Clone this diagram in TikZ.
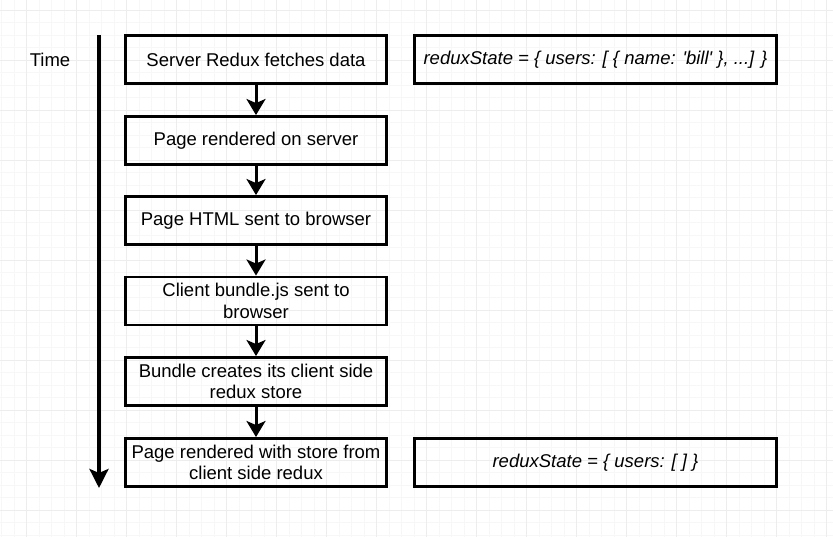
\documentclass[tikz,border=0pt]{standalone}
\usepackage{fontspec}
\setmainfont{Liberation Sans}
\usetikzlibrary{arrows.meta}
\begin{document}
\begin{tikzpicture}[x=1pt,y=-1pt,
  every node/.style={font=\fontsize{18.5}{21.7}\selectfont},
  gridminor/.style={draw=black!3, line width=0.6pt},
  gridmajor/.style={draw=black!7, line width=0.9pt},
  stepbox/.style={draw, line width=2.9pt, minimum width=261pt, minimum height=48pt, align=center, inner sep=0pt},
  statebox/.style={draw, line width=2.9pt, minimum width=362pt, minimum height=48pt, align=center, inner sep=0pt, font=\fontsize{18.5}{21.7}\selectfont\itshape},
  flow/.style={line width=3pt, -{Stealth[length=16pt,width=19pt,inset=4pt]}},
  timeline/.style={line width=3.4pt, -{Stealth[length=19pt,width=19pt,inset=4pt]}}
]
\useasboundingbox (0,0) rectangle (833,537);
\fill[white] (0,0) rectangle (833,537);
% grid
\foreach \i in {0,...,66} \draw[gridminor] ({1.7+12.5*\i},0) -- ({1.7+12.5*\i},537);
\foreach \i in {0,...,42} \draw[gridminor] (0,{10+12.5*\i}) -- (833,{10+12.5*\i});
\foreach \i in {0,...,16} \draw[gridmajor] ({26.7+50*\i},0) -- ({26.7+50*\i},537);
\foreach \i in {0,...,10} \draw[gridmajor] (0,{10+50*\i}) -- (833,{10+50*\i});

% time axis
\node (time) at (50,60) {Time};
\coordinate (t0) at (99,35);
\coordinate (t1) at (99,488);
\draw[timeline] (t0) -- (t1);

% steps
\node[stepbox] (b1) at (256,59.5) {Server Redux fetches data};
\node[stepbox] (b2) at (256,140.5) {Page rendered on server};
\node[stepbox] (b3) at (256,220.5) {Page HTML sent to browser};
\node[stepbox] (b4) at (256,301) {Client bundle.js sent to\\browser};
\node[stepbox] (b5) at (256,381.5) {Bundle creates its client side\\redux store};
\node[stepbox] (b6) at (256,462.5) {Page rendered with store from\\client side redux};

\draw[flow] (b1) -- (b2);
\draw[flow] (b2) -- (b3);
\draw[flow] (b3) -- (b4);
\draw[flow] (b4) -- (b5);
\draw[flow] (b5) -- (b6);

% states
\node[statebox] (s1) at (595.5,59.5) {reduxState = \{ users: [ \{ name: \textquotesingle bill\textquotesingle\ \}, ...] \}};
\node[statebox] (s2) at (595.5,462.5) {reduxState = \{ users: [ ] \}};
\end{tikzpicture}
\end{document}
